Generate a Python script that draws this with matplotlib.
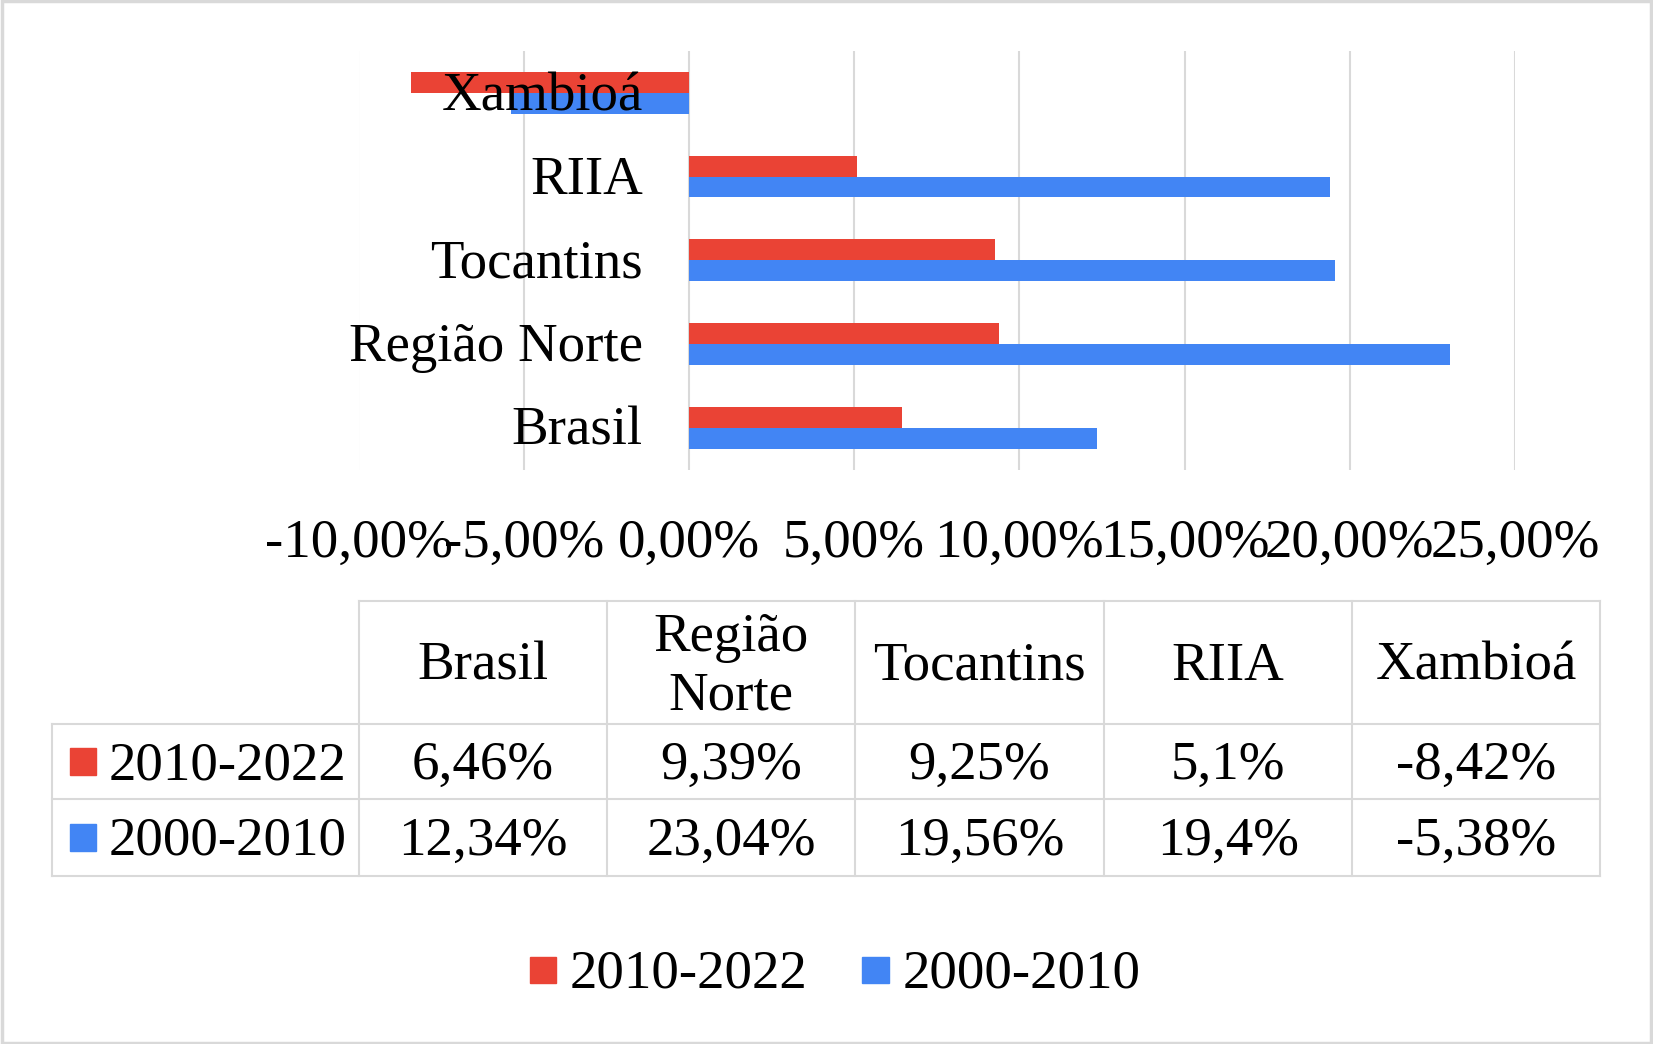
import numpy as np
import matplotlib
matplotlib.use('Agg')
import matplotlib.pyplot as plt
from matplotlib.patches import Rectangle
from matplotlib.lines import Line2D
import matplotlib.transforms as mtransforms

# ---- data ----
categories = ['Brasil', 'Região Norte', 'Tocantins', 'RIIA', 'Xambioá']
header_labels = ['Brasil', 'Região\nNorte', 'Tocantins', 'RIIA', 'Xambioá']
series_names = ['2010-2022', '2000-2010']
v_2010_2022 = [6.46, 9.39, 9.25, 5.1, -8.42]
v_2000_2010 = [12.34, 23.04, 19.56, 19.4, -5.38]
x_ticks = [-10, -5, 0, 5, 10, 15, 20, 25]

RED = '#EA4335'
BLUE = '#4285F4'
GRID = '#D9D9D9'
FS = 39.5
DY = 4  # small downward nudge for text (px)

plt.rcParams['font.family'] = ['Liberation Serif', 'DejaVu Serif']

W, H = 1653, 1044
fig = plt.figure(figsize=(W / 100, H / 100), dpi=100)


def fx(px):
    return px / W


def fy(py):
    return 1 - py / H


# ---- bar chart ----
left, right, top, bottom = 358.5, 1515.0, 51.0, 469.5
ax = fig.add_axes([fx(left), fy(bottom), fx(right - left), (bottom - top) / H])
y = np.arange(len(categories))
ax.barh(y + 0.125, v_2010_2022, height=0.25, color=RED, zorder=2)
ax.barh(y - 0.125, v_2000_2010, height=0.25, color=BLUE, zorder=2)
ax.set_xlim(-10, 25)
ax.set_ylim(-0.5, 4.5)
for t in x_ticks:
    ax.axvline(t, color=GRID, lw=1.5, zorder=1)
for s in ax.spines.values():
    s.set_visible(False)
ax.set_xticks([])
ax.set_yticks([])

# x tick labels under the plot
ylab = -(540 + DY - bottom) / (bottom - top)
for t in x_ticks:
    ax.text(t, ylab, f'{t:.2f}'.replace('.', ',') + '%', transform=ax.get_xaxis_transform(),
            ha='center', va='center', fontsize=FS, clip_on=False)

# category labels next to the zero axis
off = mtransforms.offset_copy(ax.transData, fig=fig, x=-46, y=-DY, units='dots')
for i, c in enumerate(categories):
    ax.text(0, i, c, transform=off, ha='right', va='center', fontsize=FS, zorder=5)

# ---- data table ----
tab_left = 51.7
col_edges = np.linspace(358.5, 1600.4, len(categories) + 1)
row_edges = [601.0, 724.3, 799.2, 876.1]


def hline(x0, x1, yy):
    fig.add_artist(Line2D([fx(x0), fx(x1)], [fy(yy), fy(yy)], color=GRID, lw=1.5,
                          transform=fig.transFigure))


def vline(xx, y0, y1):
    fig.add_artist(Line2D([fx(xx), fx(xx)], [fy(y0), fy(y1)], color=GRID, lw=1.5,
                          transform=fig.transFigure))


hline(col_edges[0], col_edges[-1], row_edges[0])
for r in row_edges[1:]:
    hline(tab_left, col_edges[-1], r)
vline(tab_left, row_edges[1], row_edges[-1])
for cx in col_edges:
    vline(cx, row_edges[0], row_edges[-1])

col_centers = (col_edges[:-1] + col_edges[1:]) / 2
for cx, lab in zip(col_centers, header_labels):
    fig.text(fx(cx), fy((row_edges[0] + row_edges[1]) / 2 + DY), lab, ha='center',
             va='center', fontsize=FS, linespacing=1.2)

rows = [v_2010_2022, v_2000_2010]
colors = [RED, BLUE]
for k, (vals, name, col) in enumerate(zip(rows, series_names, colors)):
    yc = (row_edges[k + 1] + row_edges[k + 2]) / 2
    fig.add_artist(Rectangle((fx(69.6), fy(yc + 13)), fx(26.4), 26.4 / H, color=col,
                             transform=fig.transFigure))
    fig.text(fx(108.6), fy(yc + DY), name, ha='left', va='center', fontsize=FS)
    for cx, v in zip(col_centers, vals):
        fig.text(fx(cx), fy(yc + DY), f'{v:g}'.replace('.', ',') + '%', ha='center',
                 va='center', fontsize=FS)

# ---- bottom legend ----
ly = 970
for sx, tx, name, col in [(530, 570, series_names[0], RED), (862.4, 902.5, series_names[1], BLUE)]:
    fig.add_artist(Rectangle((fx(sx), fy(ly + 13)), fx(26.4), 26.4 / H, color=col,
                             transform=fig.transFigure))
    fig.text(fx(tx), fy(ly + DY), name, ha='left', va='center', fontsize=FS)

# outer border
fig.add_artist(Rectangle((0.001, 0.001), 0.998, 0.998, fill=False, edgecolor=GRID, lw=2.5,
                         transform=fig.transFigure))

fig.savefig('out.png', dpi=100)
